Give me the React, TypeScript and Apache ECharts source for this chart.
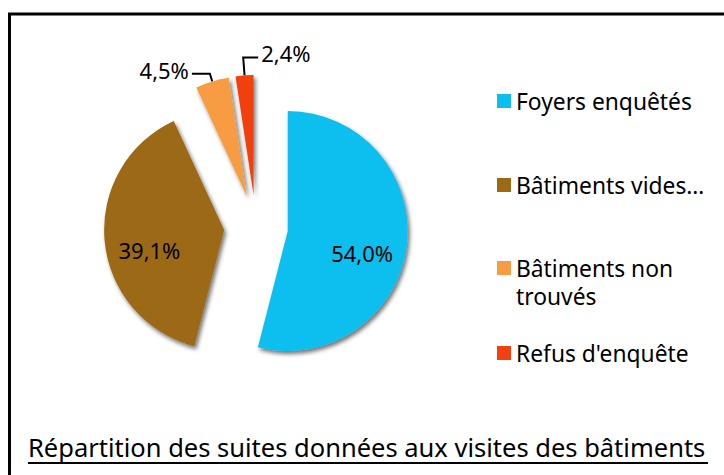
import React, { useEffect, useRef } from "react";
import * as echarts from "echarts";

const categories = ["Foyers enquêtés", "Bâtiments vides…", "Bâtiments non trouvés", "Refus d'enquête"];
const values = [54.0, 39.1, 4.5, 2.4];
const legendLines = [["Foyers enquêtés"], ["Bâtiments vides…"], ["Bâtiments non", "trouvés"], ["Refus d'enquête"]];
const titleText = "Répartition des suites données aux visites des bâtiments";

const colors = ["#0CBFEE", "#9C6A14", "#F79C42", "#F2400E"];
const FONT = "Noto Sans";

const fmt = (v: number) => v.toFixed(1).replace(".", ",") + "%";

export default function App() {
  const ref = useRef<HTMLDivElement>(null);
  useEffect(() => {
    if (!ref.current) return;
    const chart = echarts.init(ref.current, null, { renderer: "svg" });
    const center = [256, 227];
    const radius = 120;
    const offset = 32;
    const insideIdx = [0, 1];
    const lineLen = [8, 8, 8, 18];
    // a negative second segment sends the leader line to the right of the slice
    const lineLen2 = [18, 18, 18, -15];
    const labelRight = [false, false, false, true];

    const mainData = categories.map((name, i) => ({
      name,
      value: values[i],
      selected: true,
      itemStyle: { color: colors[i] },
      select: { itemStyle: { color: colors[i], borderWidth: 0 } },
      label: { show: !insideIdx.includes(i), distanceToLabelLine: labelRight[i] ? -3 : 3 },
      labelLine: { show: !insideIdx.includes(i), length: lineLen[i], length2: lineLen2[i] },
    }));
    const overlayData = categories.map((name, i) => ({
      name,
      value: values[i],
      selected: true,
      label: { show: insideIdx.includes(i) },
    }));

    const legendTops = [[87], [171], [254, 282], [339]];
    const legends: any[] = [];
    categories.forEach((name, i) => {
      legendLines[i].forEach((line, j) => {
        legends.push({
          data: [name],
          orient: "vertical",
          left: 497,
          top: legendTops[i][j],
          padding: 0,
          itemWidth: 14,
          itemHeight: 14,
          icon: j === 0 ? "rect" : "none",
          selectedMode: false,
          formatter: () => line,
          textStyle: { fontFamily: FONT, fontSize: 22.8, color: "#000", lineHeight: 28 },
        });
      });
    });

    chart.setOption({
      animation: false,
      backgroundColor: "#fff",
      title: {
        text: titleText,
        left: 28,
        top: 434,
        padding: 0,
        textStyle: { fontFamily: FONT, fontSize: 25.5, fontWeight: "normal", color: "#000" },
      },
      legend: legends,
      graphic: [
        {
          type: "rect",
          shape: { x: 9.5, y: 14, width: 800, height: 600 },
          style: { fill: "none", stroke: "#000", lineWidth: 3 },
          z: -1,
          silent: true,
        },
        {
          type: "line",
          shape: { x1: 28, y1: 463, x2: 708, y2: 463 },
          style: { stroke: "#000", lineWidth: 2 },
          silent: true,
        },
      ],
      series: [
        {
          type: "pie",
          center,
          radius,
          startAngle: 90,
          clockwise: true,
          selectedMode: "multiple",
          selectedOffset: offset,
          avoidLabelOverlap: false,
          emphasis: { disabled: true },
          itemStyle: {
            shadowColor: "rgba(0,0,0,0.55)",
            shadowBlur: 4,
            shadowOffsetX: 2,
            shadowOffsetY: 3,
          },
          label: {
            position: "outside",
            formatter: (p: any) => fmt(p.value),
            fontFamily: FONT,
            fontSize: 22,
            color: "#000",
          },
          labelLine: { lineStyle: { color: "#000", width: 2 }, smooth: false, minTurnAngle: 0, maxSurfaceAngle: 180 },
          labelLayout: (p: any) => {
            if (!labelRight[p.dataIndex]) return { dy: -4 };
            return { align: "left", dy: -4 };
          },
          data: mainData,
        },
        {
          type: "pie",
          center,
          radius: [24, radius],
          startAngle: 90,
          clockwise: true,
          selectedMode: "multiple",
          selectedOffset: offset,
          silent: true,
          itemStyle: { color: "rgba(0,0,0,0)" },
          select: { itemStyle: { color: "rgba(0,0,0,0)", borderWidth: 0 } },
          label: {
            position: "inside",
            formatter: (p: any) => fmt(p.value),
            fontFamily: FONT,
            fontSize: 22,
            color: "#000",
          },
          labelLine: { show: false },
          labelLayout: { dy: 13 },
          data: overlayData,
        },
      ],
    });
    return () => chart.dispose();
  }, []);
  return <div ref={ref} style={{ position: "fixed", left: 0, top: 0, width: 724, height: 475 }} />;
}
